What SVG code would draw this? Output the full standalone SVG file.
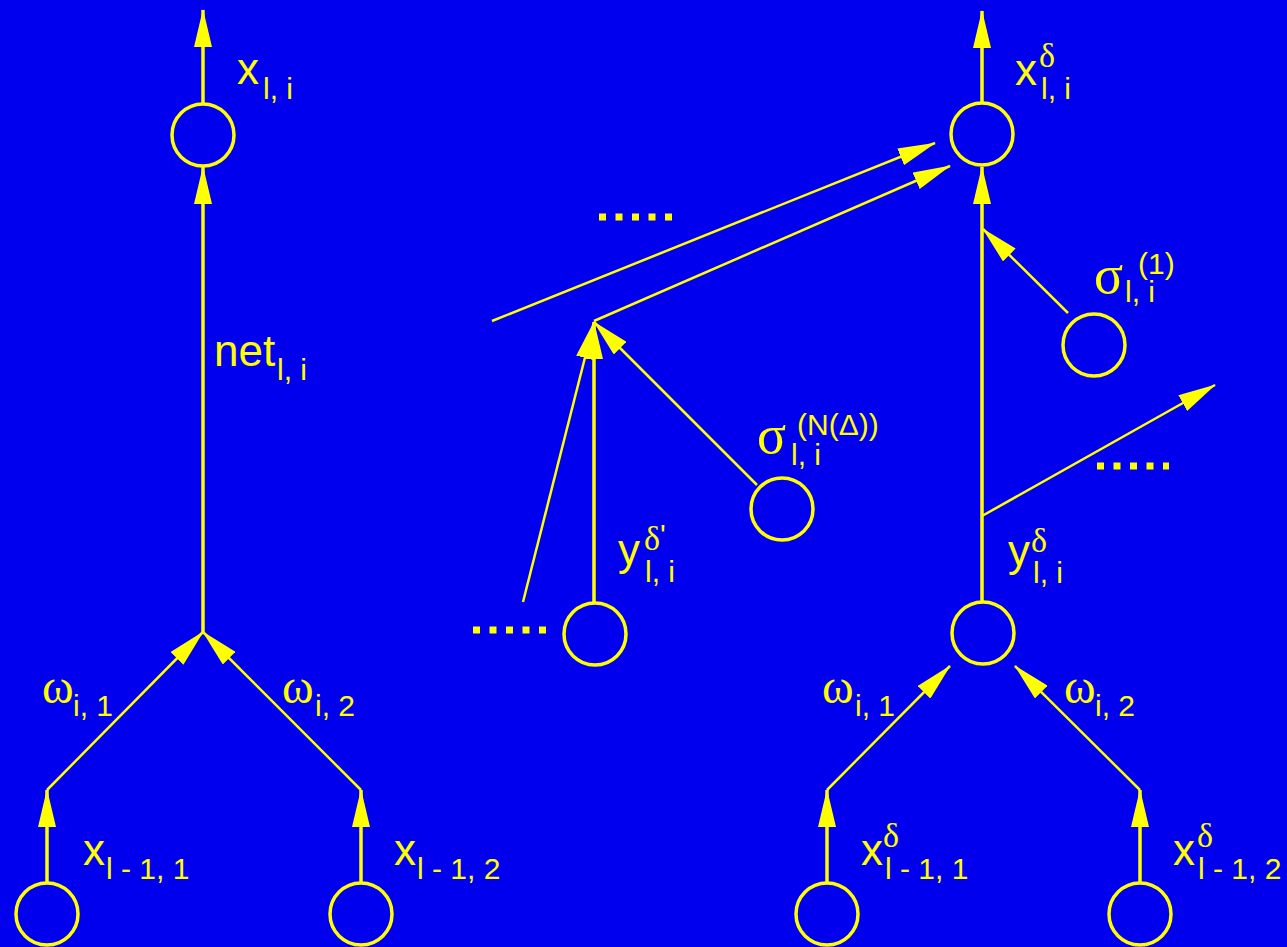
<svg xmlns="http://www.w3.org/2000/svg" width="1287" height="947" viewBox="0 0 1287 947">
<style>
.n{fill:none;stroke:#FFFF00;stroke-width:3.5}
.e{stroke:#FFFF00;stroke-width:2.5;fill:none}
.v{stroke-width:3.5}
.d{stroke:#FFFF00;stroke-width:7;stroke-dasharray:7 9.5}
text{fill:#FFFF00;font-family:"Liberation Sans",Arial,sans-serif}
.m{font-size:44px}
.s{font-size:30px}
.g{font-family:"Liberation Serif","Times New Roman",serif}
.gm{font-size:48px}
.gs{font-size:54px}
.gd{font-size:34px}
</style>
<defs>
<marker id="a" markerUnits="userSpaceOnUse" markerWidth="38" markerHeight="18" refX="37" refY="9" orient="auto" viewBox="0 0 38 18">
<path d="M0,0L38,9L0,18z" fill="#FFFF00"/>
</marker>
</defs>
<rect width="1287" height="947" fill="#0000EE"/>
<g id="connectors">
<line class="e v" x1="203" y1="103" x2="203" y2="10" marker-end="url(#a)"/>
<line class="e v" x1="203" y1="632" x2="203" y2="167" marker-end="url(#a)"/>
<line class="e v" x1="47" y1="883" x2="47" y2="790" marker-end="url(#a)"/>
<line class="e v" x1="361" y1="883" x2="361" y2="790" marker-end="url(#a)"/>
<line class="e" x1="47" y1="790" x2="203" y2="632" marker-end="url(#a)"/>
<line class="e" x1="361" y1="790" x2="203" y2="632" marker-end="url(#a)"/>
<line class="e v" x1="982" y1="102" x2="982" y2="11" marker-end="url(#a)"/>
<line class="e v" x1="982" y1="602" x2="982" y2="167" marker-end="url(#a)"/>
<line class="e v" x1="827" y1="883" x2="827" y2="790" marker-end="url(#a)"/>
<line class="e v" x1="1140" y1="883" x2="1140" y2="790" marker-end="url(#a)"/>
<line class="e" x1="827" y1="790" x2="950" y2="666" marker-end="url(#a)"/>
<line class="e" x1="1140" y1="790" x2="1015" y2="666" marker-end="url(#a)"/>
<line class="e" x1="1068" y1="313" x2="983" y2="229" marker-end="url(#a)"/>
<line class="e" x1="982" y1="516" x2="1215" y2="385" marker-end="url(#a)"/>
<line class="e v" x1="594" y1="602" x2="594" y2="322" marker-end="url(#a)"/>
<line class="e" x1="523" y1="602" x2="594" y2="322" marker-end="url(#a)"/>
<line class="e" x1="757" y1="485" x2="594" y2="322" marker-end="url(#a)"/>
<line class="e" x1="492" y1="321" x2="935" y2="143" marker-end="url(#a)"/>
<line class="e" x1="594" y1="321" x2="950" y2="166" marker-end="url(#a)"/>
<line class="d" x1="599" y1="217" x2="673" y2="217"/>
<line class="d" x1="473" y1="630" x2="547" y2="630"/>
<line class="d" x1="1097" y1="466" x2="1169" y2="466"/>
</g>
<g id="n-left-out">
<circle class="n" cx="203" cy="135" r="31"/>
<text class="m" x="237" y="84">x</text><text class="s" x="263" y="99">l, i</text>
<text class="m" x="214" y="366">net</text><text class="s" x="277" y="380">l, i</text>
</g>
<g id="n-left-in1">
<circle class="n" cx="47" cy="914" r="31"/>
<text class="m" x="83" y="865">x</text><text class="s" x="106" y="879">l - 1, 1</text>
<text class="g gm" x="42" y="703">ω</text><text class="s" x="73" y="716">i, 1</text>
</g>
<g id="n-left-in2">
<circle class="n" cx="361" cy="914" r="31"/>
<text class="m" x="394" y="865">x</text><text class="s" x="417" y="879">l - 1, 2</text>
<text class="g gm" x="282" y="703">ω</text><text class="s" x="315" y="716">i, 2</text>
</g>
<g id="n-right-out">
<circle class="n" cx="982" cy="134" r="31"/>
<text class="m" x="1015" y="85">x</text><text class="g gd" x="1039" y="67">δ</text><text class="s" x="1041" y="99">l, i</text>
</g>
<g id="n-sigma1">
<circle class="n" cx="1094" cy="345" r="31"/>
<text class="g gs" x="1094" y="293">σ</text><text class="s" x="1138" y="274">(1)</text><text class="s" x="1125" y="302">l, i</text>
</g>
<g id="n-right-y">
<circle class="n" cx="983" cy="633" r="31"/>
<text class="m" x="1008" y="566">y</text><text class="g gd" x="1031" y="552">δ</text><text class="s" x="1033" y="583">l, i</text>
</g>
<g id="n-right-in1">
<circle class="n" cx="827" cy="914" r="31"/>
<text class="m" x="861" y="865">x</text><text class="g gd" x="883" y="847">δ</text><text class="s" x="885" y="879">l - 1, 1</text>
<text class="g gm" x="822" y="703">ω</text><text class="s" x="855" y="716">i, 1</text>
</g>
<g id="n-right-in2">
<circle class="n" cx="1140" cy="914" r="31"/>
<text class="m" x="1173" y="865">x</text><text class="g gd" x="1197" y="847">δ</text><text class="s" x="1198" y="879">l - 1, 2</text>
<text class="g gm" x="1064" y="703">ω</text><text class="s" x="1095" y="716">i, 2</text>
</g>
<g id="n-sigmaN">
<circle class="n" cx="782" cy="509" r="31"/>
<text class="g gs" x="757" y="453">σ</text><text class="s" x="797" y="435">(N(Δ))</text><text class="s" x="791" y="465">l, i</text>
</g>
<g id="n-mid-y">
<circle class="n" cx="595" cy="634" r="31"/>
<text class="m" x="618" y="565">y</text><text class="g gd" x="644" y="550">δ</text><text class="s" x="660" y="545">'</text><text class="s" x="645" y="582">l, i</text>
</g>
</svg>
